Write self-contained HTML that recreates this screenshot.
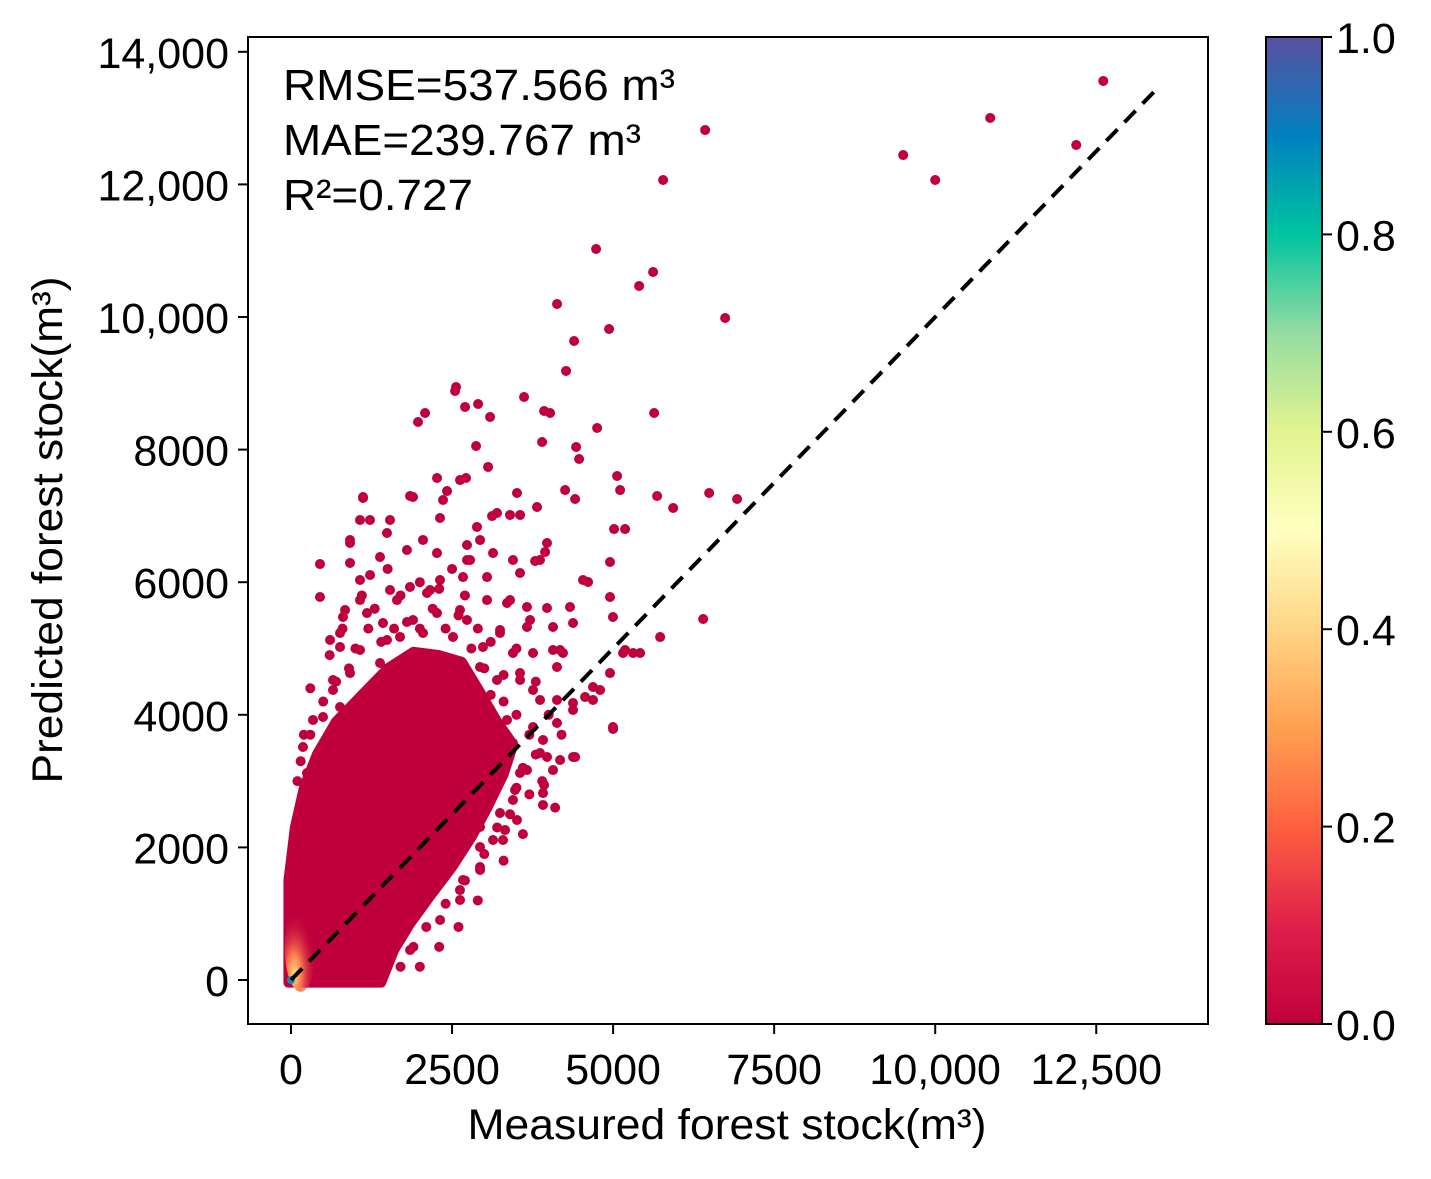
<!DOCTYPE html>
<html><head><meta charset="utf-8"><style>
body{margin:0;background:#fff;}
svg text{font-family:"Liberation Sans",sans-serif;fill:#000;}
</style></head><body>
<svg width="1431" height="1174" viewBox="0 0 1431 1174">
<defs>
<linearGradient id="cb" x1="0" y1="1" x2="0" y2="0">
<stop offset="0" stop-color="#c0003c"/><stop offset="0.1" stop-color="#e0204a"/><stop offset="0.2" stop-color="#ff6040"/>
<stop offset="0.3" stop-color="#ffa050"/><stop offset="0.4" stop-color="#ffd585"/><stop offset="0.5" stop-color="#ffffc0"/>
<stop offset="0.6" stop-color="#e2f38f"/><stop offset="0.7" stop-color="#95dca2"/><stop offset="0.8" stop-color="#00c4a0"/>
<stop offset="0.9" stop-color="#0080c0"/><stop offset="1" stop-color="#5a50a0"/></linearGradient>
<radialGradient id="dens" cx="0.3" cy="0.8" r="0.7">
<stop offset="0" stop-color="#ffe080"/><stop offset="0.3" stop-color="#ff8050"/><stop offset="1" stop-color="#c0003c" stop-opacity="0"/></radialGradient>
<clipPath id="pc"><rect x="248" y="37" width="960" height="987"/></clipPath>
</defs>
<g id="plot" clip-path="url(#pc)"></g>
<rect x="248" y="37" width="960" height="987" fill="none" stroke="#000" stroke-width="2"/>
<g id="axes"></g>
<text x="283" y="100" font-size="44" textLength="392" lengthAdjust="spacingAndGlyphs">RMSE=537.566 m³</text>
<text x="283" y="155" font-size="44" textLength="358" lengthAdjust="spacingAndGlyphs">MAE=239.767 m³</text>
<text x="283" y="210" font-size="44" textLength="190" lengthAdjust="spacingAndGlyphs">R²=0.727</text>
<text x="727" y="1139" font-size="43" text-anchor="middle" textLength="519" lengthAdjust="spacingAndGlyphs">Measured forest stock(m³)</text>
<text transform="translate(62,530) rotate(-90)" font-size="43" text-anchor="middle" textLength="507" lengthAdjust="spacingAndGlyphs">Predicted forest stock(m³)</text>
<rect x="1266" y="37" width="56" height="987" fill="url(#cb)" stroke="#000" stroke-width="2"/>
<g id="cbticks"></g>
</svg>
<script>
const xTicks=[0,2500,5000,7500,10000,12500];
const xTickLabels=["0","2500","5000","7500","10,000","12,500"];
const yTicks=[0,2000,4000,6000,8000,10000,12000,14000];
const yTickLabels=["0","2000","4000","6000","8000","10,000","12,000","14,000"];
const cbTicks=[0,0.2,0.4,0.6,0.8,1.0];
const cbTickLabels=["0.0","0.2","0.4","0.6","0.8","1.0"];
const coreX=[-40,-40,60,200,400,700,1100,1500,1900,2300,2650,2900,3200,3450,3300,3050,2800,2500,2150,1850,1600,1400];
const coreY=[-40,1500,2300,2900,3400,3900,4300,4700,4950,4900,4800,4400,3900,3550,3100,2600,2150,1700,1250,850,450,-40];
const ptX=[12609,10854,12189,10000,9503,6429,5776,4736,5621,5404,4130,6739,4938,4394,4270,2562,2547,3618,2904,2702,3090,2081,1972,3929,4022,5637,4752,3898,4426,4472,2873,2717,3059,5062,5683,5932,6491,6925,4255,4410,5109,5015,5186,3400,3556,3121,5730,6398,5000,4612,3944,3789,450,450,1118,1848,2267,2422,3866,4410,3929,4177,5186,5419,4565,4798,3478,3323,3866,4177,3168,3245,2780,1537,916,1227,2158,2624,3400,3711,2935,3556,2935,2624,2314,1848,606,839,
1118,1894,2360,3508,1071,1226,2313,3819,3198,2887,1490,916,2049,916,1382,1800,2266,2732,3136,3974,2732,3446,3865,1071,1537,1847,2313,2670,3043,3555,4533,4952,4952,1071,1645,2111,2623,3043,3353,3663,3974,4331,807,1180,1428,1894,2266,2732,3244,3663,4067,4378,4998,761,761,1071,1490,1692,2049,2515,2980,3446,3757,4067,4222,5154,5309,652,652,916,1382,2934,3198,3555,3757,4129,4688,4952,4129,4378,4688,342,497,761,3089,3353,3757,4129,4378,4998,186,248,342,3198,3446,3912,3974,4378,3136,3555,3663,4067,3136,3446,3912,3912,3043,3244,3508,2934,3136,3291,2934,2934,2670,2623,
300,500,700,900,300,600,1000,1200,800,1400,1600,1800,2000,2200,2400,2600,2800,3000,3100,3300,3500,3700,3800,3600,3500,3700,3400,3200,3000,2700,2400,2100,1900,1700,150,100,1300,1700,2000,2300,2500,1500,2900,3300,3800,4000,4200,3900,4100,3600,3300,2900,2600,2300,2000,200,1100,2700,3100,3500];
const ptY=[13560,13002,12594,12066,12443,12820,12066,11026,10679,10468,10196,9985,9819,9638,9186,8944,8884,8793,8688,8643,8492,8552,8416,8582,8552,8552,8326,8115,8039,7858,8054,7572,7738,7602,7300,7119,7345,7255,7390,7255,7390,6802,6802,7014,7014,6998,5173,5445,3786,6003,6456,6320,6274,5777,7270,7300,7572,7375,3424,3363,2941,3318,4977,4932,4268,4374,2866,2262,4223,4977,3620,5279,6335,6938,6636,6109,5882,7541,5731,5430,6636,4525,1659,1207,905,452,5128,5581,
7285,7285,7240,7345,6938,6938,6968,7134,7044,6833,6742,6591,6637,6290,6380,6486,6440,6561,6440,6591,6335,6335,6335,6033,5882,5928,6033,6078,6078,6139,6033,6305,5777,5731,5731,5837,5581,5731,5686,5626,5611,5626,5475,5535,5385,5430,5535,5430,5234,5324,5324,5385,5475,5234,5023,4977,5128,5174,5234,5174,5023,4932,4932,4977,4932,4932,4932,4525,4374,4630,4781,4721,4525,4630,4374,4721,4419,4630,4223,4178,4223,3922,3967,4118,3922,3922,3816,3876,4072,3816,3514,3122,2911,3620,3575,3620,3364,3364,3273,3122,3167,3167,2971,2715,2820,2640,2609,2519,2413,2308,2112,2112,2006,1704,1508,1357,
3700,4200,4500,4700,4400,4900,5000,5300,5300,5100,5300,5400,5300,5600,5300,5500,5000,4700,4300,4200,4000,3700,3400,3200,2900,2800,2500,2300,1900,1500,1150,800,500,200,3300,3000,5600,5800,6000,5900,6200,6200,5300,4600,4500,4000,3700,3000,2600,2200,1800,1200,800,500,200,3700,5800,5800,5100,5000];
const sx=v=>291+v*0.06442, sy=v=>980-v*0.06630;
const NS="http://www.w3.org/2000/svg";
const plot=document.getElementById('plot'),axes=document.getElementById('axes'),cbt=document.getElementById('cbticks');
function mk(t,a,p){const e=document.createElementNS(NS,t);for(const k in a)e.setAttribute(k,a[k]);p.appendChild(e);return e;}
const core=mk('polygon',{points:coreX.map((x,i)=>sx(x)+','+sy(coreY[i])).join(' '),fill:'#c0003c',stroke:'#c0003c','stroke-width':10,'stroke-linejoin':'round'},plot);


ptX.forEach((x,i)=>{const c=mk('circle',{cx:sx(x),cy:sy(ptY[i]),r:5,fill:'#c0003c'},plot);

});
const dg=mk('ellipse',{cx:sx(150),cy:sy(500),rx:16,ry:45,fill:'url(#dens)'},plot);


const dc=mk('circle',{cx:sx(0),cy:sy(0),r:4,fill:'#1090b0'},plot);


const ln=mk('line',{x1:sx(0),y1:sy(0),x2:sx(13500),y2:sy(13500),stroke:'#000','stroke-width':4,'stroke-dasharray':'16,10'},plot);


xTicks.forEach((v,i)=>{mk('line',{x1:sx(v),y1:1024,x2:sx(v),y2:1034,stroke:'#000','stroke-width':2},axes);
const t=mk('text',{x:sx(v),y:1084,'font-size':43,'text-anchor':'middle'},axes);t.textContent=xTickLabels[i];

});
yTicks.forEach((v,i)=>{mk('line',{x1:238,y1:sy(v),x2:248,y2:sy(v),stroke:'#000','stroke-width':2},axes);
const t=mk('text',{x:229,y:sy(v)+16,'font-size':43,'text-anchor':'end'},axes);t.textContent=yTickLabels[i];

});
cbTicks.forEach((v,i)=>{const y=1024-v*987;mk('line',{x1:1322,y1:y,x2:1332,y2:y,stroke:'#000','stroke-width':2},cbt);
const t=mk('text',{x:1336,y:y+16,'font-size':43},cbt);t.textContent=cbTickLabels[i];

});
</script>
</body></html>
